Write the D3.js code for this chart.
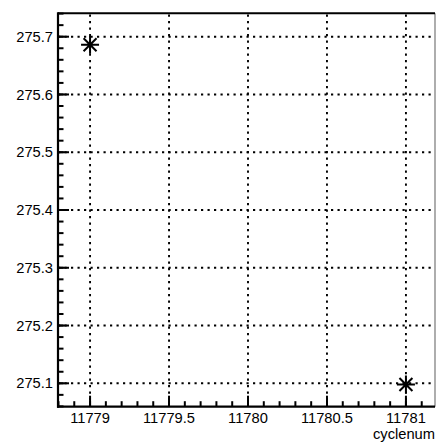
<!DOCTYPE html>
<html>
<head>
<meta charset="utf-8">
<script src="https://cdn.jsdelivr.net/npm/d3@7"></script>
<style>
html,body{margin:0;padding:0;background:#fff;}
svg{display:block;}
text{font-family:"Liberation Sans",Arial,Helvetica,sans-serif;}
</style>
</head>
<body>
<svg id="c" width="437" height="445"></svg>
<script>
// Data
const cycles = [11779, 11781];
const values = [275.686, 275.098];
const xDomain = [11778.797, 11781.184];
const yDomain = [275.0595, 275.7405];
const xMajorTicks = [11779, 11779.5, 11780, 11780.5, 11781];
const xTickLabels = ["11779", "11779.5", "11780", "11780.5", "11781"];
const yMajorTicks = [275.1, 275.2, 275.3, 275.4, 275.5, 275.6, 275.7];
const yTickLabels = ["275.1", "275.2", "275.3", "275.4", "275.5", "275.6", "275.7"];
const xTitle = "cyclenum";

const svg = d3.select("#c");
const L = 58, R = 435, T = 13.3, B = 406.7;
const x = d3.scaleLinear().domain(xDomain).range([L, R]);
const y = d3.scaleLinear().domain(yDomain).range([B, T]);

// minor ticks
const xMinor = d3.range(0, 25).map(i => 11778.8 + i * 0.1).filter(v => v >= xDomain[0] && v <= xDomain[1]);
const yMinor = d3.range(0, 40).map(i => 275.06 + i * 0.02).filter(v => v >= yDomain[0] && v <= yDomain[1]);

// grid
const grid = svg.append("g").attr("stroke", "#000").attr("stroke-width", 1.9).attr("stroke-dasharray", "2.2,4.3");
grid.selectAll("line.gx").data(xMajorTicks).join("line").attr("class", "gx")
  .attr("x1", d => x(d)).attr("x2", d => x(d)).attr("y1", B).attr("y2", T);
grid.selectAll("line.gy").data(yMajorTicks).join("line").attr("class", "gy")
  .attr("x1", L).attr("x2", R).attr("y1", d => y(d)).attr("y2", d => y(d));

// frame
svg.append("line").attr("x1", R).attr("x2", R).attr("y1", T).attr("y2", B).attr("stroke", "#777").attr("stroke-width", 1.2);
svg.append("line").attr("x1", L).attr("x2", R).attr("y1", T).attr("y2", T).attr("stroke", "#000").attr("stroke-width", 2);

// x axis
const xAxis = svg.append("g").attr("transform", `translate(0,${B})`);
xAxis.append("line").attr("x1", L - 1).attr("x2", R).attr("stroke", "#000").attr("stroke-width", 2.2);
xAxis.selectAll("line.mn").data(xMinor).join("line").attr("class", "mn")
  .attr("x1", d => x(d)).attr("x2", d => x(d)).attr("y1", 0).attr("y2", -5.5).attr("stroke", "#000").attr("stroke-width", 2);
xAxis.selectAll("line.mj").data(xMajorTicks).join("line").attr("class", "mj")
  .attr("x1", d => x(d)).attr("x2", d => x(d)).attr("y1", 0).attr("y2", -11).attr("stroke", "#000").attr("stroke-width", 2);
xAxis.selectAll("text").data(xMajorTicks).join("text")
  .attr("x", d => x(d)).attr("y", 16.5).attr("text-anchor", "middle")
  .attr("font-size", "14.7px").attr("fill", "#000")
  .text((d, i) => xTickLabels[i]);
svg.append("text").attr("x", 435).attr("y", 439).attr("text-anchor", "end")
  .attr("font-size", "14.7px").attr("fill", "#000").text(xTitle);

// y axis
const yAxis = svg.append("g").attr("transform", `translate(${L},0)`);
yAxis.append("line").attr("y1", T - 1).attr("y2", B + 1).attr("stroke", "#000").attr("stroke-width", 2.2);
yAxis.selectAll("line.mn").data(yMinor).join("line").attr("class", "mn")
  .attr("y1", d => y(d)).attr("y2", d => y(d)).attr("x1", 0).attr("x2", 5.5).attr("stroke", "#000").attr("stroke-width", 2);
yAxis.selectAll("line.mj").data(yMajorTicks).join("line").attr("class", "mj")
  .attr("y1", d => y(d)).attr("y2", d => y(d)).attr("x1", 0).attr("x2", 11).attr("stroke", "#000").attr("stroke-width", 2);
yAxis.selectAll("text").data(yMajorTicks).join("text")
  .attr("x", -5).attr("y", d => y(d)).attr("dy", "0.35em").attr("text-anchor", "end")
  .attr("font-size", "14.7px").attr("fill", "#000")
  .text((d, i) => yTickLabels[i]);

// markers (asterisk)
const s = 9;
const pts = cycles.map((c, i) => ({c, v: values[i]}));
const mk = svg.append("g").attr("stroke", "#000").attr("stroke-width", 2);
pts.forEach(p => {
  const cx = x(p.c), cy = y(p.v);
  const d = s * 0.72;
  mk.append("path").attr("d",
    `M${cx - s},${cy}L${cx + s},${cy}M${cx},${cy - s}L${cx},${cy + s}` +
    `M${cx - d},${cy - d}L${cx + d},${cy + d}M${cx - d},${cy + d}L${cx + d},${cy - d}`);
});
</script>
</body>
</html>
